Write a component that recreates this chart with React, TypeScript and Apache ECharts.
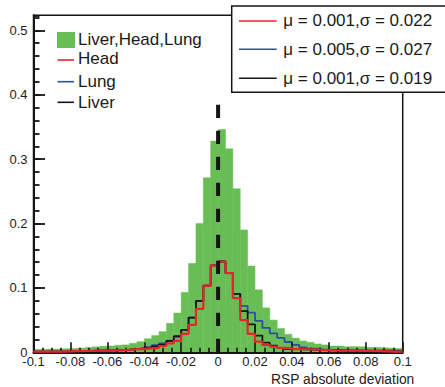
import React, { useEffect, useRef } from "react";
import * as echarts from "echarts";

// Histogram: 50 bins of width 0.004 from -0.1 to 0.1
const binStart = -0.1;
const binWidth = 0.004;

// Combined (Liver,Head,Lung) — green filled histogram
const allOrgans = [
  0.0045, 0.0045, 0.005, 0.005, 0.0055, 0.006, 0.0065, 0.0075, 0.0085, 0.0095,
  0.0098, 0.011, 0.0115, 0.014, 0.0165, 0.021, 0.026, 0.032, 0.045, 0.061,
  0.093, 0.138, 0.2, 0.271, 0.328, 0.346, 0.316, 0.254, 0.19, 0.134,
  0.097, 0.069, 0.05, 0.037, 0.028, 0.022, 0.0176, 0.0155, 0.013, 0.0114,
  0.0098, 0.0098, 0.0087, 0.0087, 0.0087, 0.0078, 0.0078, 0.007, 0.0065, 0.006,
];

// Head — red
const head = [
  0.001, 0.001, 0.001, 0.0012, 0.0015, 0.0018, 0.002, 0.002, 0.0025, 0.0025,
  0.003, 0.003, 0.004, 0.005, 0.005, 0.006, 0.007, 0.0098, 0.014, 0.0176,
  0.0285, 0.0425, 0.0673, 0.1036, 0.135, 0.141, 0.123, 0.084, 0.05, 0.0285,
  0.0165, 0.0114, 0.0087, 0.007, 0.0065, 0.005, 0.0047, 0.0045, 0.004, 0.0035,
  0.003, 0.0028, 0.0025, 0.0025, 0.0022, 0.002, 0.0018, 0.0015, 0.0012, 0.001,
];

// Lung — blue
const lung = [
  0.0012, 0.0012, 0.0015, 0.0015, 0.0018, 0.002, 0.0022, 0.0025, 0.0028, 0.003,
  0.003, 0.0035, 0.004, 0.005, 0.006, 0.008, 0.011, 0.014, 0.018, 0.024,
  0.0347, 0.054, 0.0798, 0.1036, 0.135, 0.141, 0.123, 0.0907, 0.072, 0.0616,
  0.0487, 0.038, 0.0295, 0.0225, 0.016, 0.0114, 0.0078, 0.0058, 0.0055, 0.004,
  0.0036, 0.0035, 0.003, 0.003, 0.003, 0.003, 0.0028, 0.0028, 0.0025, 0.0025,
];

// Liver — black
const liver = [
  0.001, 0.001, 0.0012, 0.0012, 0.0015, 0.0018, 0.002, 0.002, 0.0025, 0.0028,
  0.003, 0.0035, 0.004, 0.005, 0.006, 0.007, 0.009, 0.012, 0.0176, 0.025,
  0.0347, 0.054, 0.0798, 0.1036, 0.135, 0.141, 0.123, 0.0907, 0.064, 0.0435,
  0.026, 0.015, 0.0103, 0.007, 0.0055, 0.005, 0.0045, 0.004, 0.0035, 0.003,
  0.003, 0.0028, 0.0025, 0.0025, 0.0022, 0.002, 0.002, 0.0018, 0.0015, 0.0015,
];

const legendNames = ["Liver,Head,Lung", "Head", "Lung", "Liver"];
const statLabels = ["\u03bc = 0.001,\u03c3 = 0.022", "\u03bc = 0.005,\u03c3 = 0.027", "\u03bc = 0.001,\u03c3 = 0.019"];
const xTitle = "RSP absolute deviation";
const meanLineTop = 0.3846;

const GREEN = "#68be54";
const RED = "#e8252b";
const BLUE = "#2e4fa2";
const BLACK = "#151515";
const FONT = '"Liberation Sans", Arial, Helvetica, sans-serif';

const edge = (i: number) => +(binStart + i * binWidth).toFixed(4);

function stepData(vals: number[]) {
  const pts: number[][] = vals.map((v, i) => [edge(i), v]);
  pts.push([edge(vals.length), vals[vals.length - 1]]);
  return pts;
}

export default function App() {
  const ref = useRef<HTMLDivElement>(null);

  useEffect(() => {
    if (!ref.current) return;
    const chart = echarts.init(ref.current, undefined, { renderer: "svg" });

    const yMax = 0.5234;
    const lineSeries = (name: string, vals: number[], color: string, width: number, z: number) => ({
      name,
      type: "line",
      step: "end",
      data: stepData(vals),
      symbol: "none",
      showSymbol: false,
      lineStyle: { color, width },
      z,
      silent: true,
    });

    const option: any = {
      animation: false,
      backgroundColor: "#ffffff",
      grid: {
        left: 33.5,
        right: 42.3,
        top: 15.3,
        bottom: 34.7,
        show: true,
        borderColor: BLACK,
        borderWidth: 1.5,
        backgroundColor: "transparent",
      },
      xAxis: [
        {
          type: "value",
          min: -0.1,
          max: 0.1,
          interval: 0.02,
          position: "bottom",
          z: 5,
          axisLine: { show: true, onZero: false, lineStyle: { color: BLACK, width: 2 } },
          axisTick: { show: true, inside: true, length: 10, lineStyle: { color: BLACK, width: 1.6 } },
          minorTick: { show: true, splitNumber: 4, length: 4.5, lineStyle: { color: BLACK, width: 1.6 } },
          axisLabel: { margin: 3, fontSize: 13, color: "#222", fontFamily: FONT },
          splitLine: { show: false },
          minorSplitLine: { show: false },
        },
      ],
      yAxis: [
        {
          type: "value",
          min: 0,
          max: yMax,
          interval: 0.1,
          position: "left",
          z: 5,
          axisLine: { show: true, onZero: false, lineStyle: { color: BLACK, width: 2 } },
          axisTick: { show: true, inside: true, length: 11.5, lineStyle: { color: BLACK, width: 1.8 } },
          axisLabel: { margin: 6, fontSize: 13, color: "#222", fontFamily: FONT, showMaxLabel: false },
          splitLine: { show: false },
        },
        {
          type: "value",
          min: 0,
          max: yMax,
          interval: 0.02,
          position: "left",
          offset: 0,
          z: 5,
          axisLine: { show: false, onZero: false },
          axisTick: { show: true, inside: true, length: 6, lineStyle: { color: BLACK, width: 1.8 } },
          axisLabel: { show: false },
          splitLine: { show: false },
        },
      ],
      series: [
        {
          name: legendNames[0],
          type: "custom",
          xAxisIndex: 0,
          yAxisIndex: 0,
          silent: true,
          z: 2,
          data: allOrgans.map((v, i) => [edge(i), edge(i + 1), v]),
          encode: { x: [0, 1], y: 2 },
          renderItem: (params: any, api: any) => {
            const p0 = api.coord([api.value(0), api.value(2)]);
            const p1 = api.coord([api.value(1), 0]);
            return {
              type: "rect",
              shape: { x: p0[0], y: p0[1], width: p1[0] - p0[0], height: p1[1] - p0[1] },
              style: { fill: GREEN, stroke: GREEN, lineWidth: 0.5 },
            };
          },
        },
        lineSeries("Lung", lung, BLUE, 1.8, 3),
        lineSeries("Liver", liver, BLACK, 1.8, 4),
        lineSeries("Head", head, RED, 2.2, 5),
        {
          name: "mean",
          type: "line",
          data: [
            [0, meanLineTop],
            [0, 0],
          ],
          symbol: "none",
          silent: true,
          z: 6,
          lineStyle: { color: BLACK, width: 4, type: [13.3, 12.7], cap: "butt" },
        },
      ],
      graphic: [
        // left legend
        { type: "rect", z: 50, shape: { x: 57, y: 32, width: 18, height: 16 }, style: { fill: GREEN } },
        { type: "text", z: 50, x: 78, y: 39.7, style: { text: legendNames[0], fontSize: 17, fontFamily: FONT, fill: "#1a1a1a", align: "left", verticalAlign: "middle" } },
        { type: "line", z: 50, shape: { x1: 57.5, y1: 60, x2: 74, y2: 60 }, style: { stroke: RED, lineWidth: 1.6 } },
        { type: "text", z: 50, x: 78, y: 58.8, style: { text: legendNames[1], fontSize: 17, fontFamily: FONT, fill: "#1a1a1a", align: "left", verticalAlign: "middle" } },
        { type: "line", z: 50, shape: { x1: 57.5, y1: 81.7, x2: 74, y2: 81.7 }, style: { stroke: BLUE, lineWidth: 1.6 } },
        { type: "text", z: 50, x: 78, y: 81.8, style: { text: legendNames[2], fontSize: 17, fontFamily: FONT, fill: "#1a1a1a", align: "left", verticalAlign: "middle" } },
        { type: "line", z: 50, shape: { x1: 57.5, y1: 102.3, x2: 74, y2: 102.3 }, style: { stroke: BLACK, lineWidth: 1.6 } },
        { type: "text", z: 50, x: 78, y: 102.4, style: { text: legendNames[3], fontSize: 17, fontFamily: FONT, fill: "#1a1a1a", align: "left", verticalAlign: "middle" } },
        // right statistics box
        { type: "rect", z: 60, shape: { x: 231.7, y: 6, width: 220, height: 86.3 }, style: { fill: "#ffffff", stroke: BLACK, lineWidth: 1.5 } },
        { type: "line", z: 61, shape: { x1: 239, y1: 21, x2: 276.7, y2: 21 }, style: { stroke: RED, lineWidth: 1.6 } },
        { type: "text", z: 61, x: 283.3, y: 20.6, style: { text: statLabels[0], fontSize: 17, fontFamily: FONT, fill: "#1a1a1a", align: "left", verticalAlign: "middle" } },
        { type: "line", z: 61, shape: { x1: 239, y1: 49.3, x2: 276.7, y2: 49.3 }, style: { stroke: BLUE, lineWidth: 1.6 } },
        { type: "text", z: 61, x: 283.3, y: 49.2, style: { text: statLabels[1], fontSize: 17, fontFamily: FONT, fill: "#1a1a1a", align: "left", verticalAlign: "middle" } },
        { type: "line", z: 61, shape: { x1: 239, y1: 78.3, x2: 276.7, y2: 78.3 }, style: { stroke: BLACK, lineWidth: 1.6 } },
        { type: "text", z: 61, x: 283.3, y: 78.1, style: { text: statLabels[2], fontSize: 17, fontFamily: FONT, fill: "#1a1a1a", align: "left", verticalAlign: "middle" } },
        // x-axis title
        { type: "text", z: 50, x: 414.3, y: 379.8, style: { text: xTitle, fontSize: 13.8, fontFamily: FONT, fill: "#222", align: "right", verticalAlign: "middle" } },
      ],
    };

    chart.setOption(option);
    return () => chart.dispose();
  }, []);

  return (
    <div
      ref={ref}
      style={{ position: "absolute", left: 0, top: 0, width: 445, height: 387, background: "#fff" }}
    />
  );
}
